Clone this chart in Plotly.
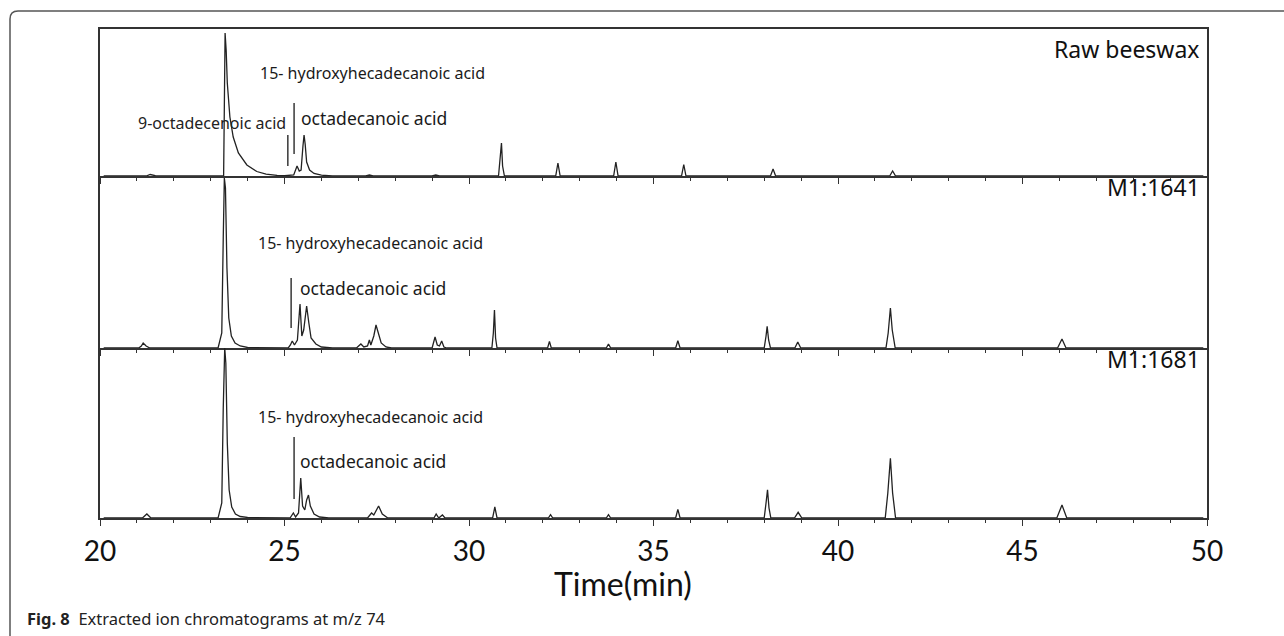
import plotly.graph_objects as go
from plotly.subplots import make_subplots

# ---------------- data ----------------
panel_names = ["Raw beeswax", "M1:1641", "M1:1681"]

raw_time = [20.1, 21.25, 21.36, 21.5, 22.0, 23.0, 23.35, 23.37, 23.39, 23.42, 23.45, 23.52,
            23.61, 23.75, 23.98, 24.25, 24.5, 24.8, 25.0, 25.25, 25.34, 25.40, 25.45, 25.50,
            25.53, 25.56, 25.60, 25.68, 25.8, 26.0, 26.3, 27.2, 27.3, 27.4, 29.0, 29.1, 29.2,
            30.8, 30.85, 30.88, 30.91, 30.96, 32.35, 32.41, 32.47, 33.92, 33.98, 34.04,
            35.76, 35.82, 35.88, 38.17, 38.24, 38.31, 41.40, 41.48, 41.56, 49.9]
raw_int = [0, 0, 1.5, 0.3, 0, 0, 0.3, 70, 143, 125, 93, 59,
           39, 23, 11, 4.5, 1.8, 0.6, 0.3, 1, 10, 5, 6, 30,
           41, 32, 14, 6, 2.5, 0.8, 0, 0, 1, 0, 0, 1, 0,
           0, 18, 33, 10, 0, 0, 13, 0, 0, 14, 0,
           0, 11.5, 0, 0, 7, 0, 0, 5, 0, 0]

m1641_time = [20.1, 21.05, 21.12, 21.17, 21.25, 21.35, 23.2, 23.30, 23.34, 23.37, 23.40, 23.44,
              23.49, 23.56, 23.66, 23.8, 24.0, 25.1, 25.16, 25.21, 25.27, 25.35, 25.42, 25.47,
              25.52, 25.60, 25.66, 25.72, 25.85, 26.0, 26.3, 26.95, 27.07, 27.15, 27.25, 27.30,
              27.34, 27.42, 27.48, 27.54, 27.62, 27.75, 27.9, 29.0, 29.08, 29.14, 29.2, 29.26,
              29.32, 29.4, 30.62, 30.66, 30.69, 30.72, 30.76, 32.13, 32.18, 32.23, 33.72, 33.78,
              33.84, 35.6, 35.66, 35.72, 38.0, 38.05, 38.08, 38.12, 38.17, 38.83, 38.91, 38.99,
              41.30, 41.36, 41.42, 41.47, 41.55, 45.95, 46.07, 46.18, 49.9]
m1641_int = [0, 0, 2, 5, 2, 0, 0, 15, 110, 170, 160, 80,
             30, 12, 5, 2, 0.5, 0, 3, 7, 3, 8, 44, 12,
             18, 42, 25, 10, 4, 1, 0, 0, 4, 1, 2, 8,
             3, 12, 23, 15, 5, 1, 0, 0, 11, 3, 2, 7,
             1, 0, 0, 15, 38, 10, 0, 0, 6.7, 0, 0, 4,
             0, 0, 7.3, 0, 0, 12, 21.7, 8, 0, 0, 6, 0,
             0, 15, 40, 18, 0, 0, 9, 0, 0]

m1681_time = [20.1, 21.15, 21.27, 21.38, 23.2, 23.30, 23.34, 23.38, 23.41, 23.45, 23.50, 23.57,
              23.67, 23.8, 24.0, 25.15, 25.24, 25.30, 25.38, 25.44, 25.49, 25.55, 25.60, 25.65,
              25.70, 25.80, 25.95, 26.2, 27.25, 27.36, 27.42, 27.55, 27.65, 27.8, 29.05, 29.11,
              29.18, 29.28, 29.35, 30.64, 30.70, 30.76, 32.15, 32.21, 32.27, 33.72, 33.78, 33.84,
              35.6, 35.66, 35.72, 38.0, 38.05, 38.09, 38.13, 38.18, 38.82, 38.92, 39.02,
              41.28, 41.35, 41.42, 41.48, 41.56, 45.93, 46.07, 46.2, 49.9]
m1681_int = [0, 0, 4, 0, 0, 15, 110, 170, 155, 75, 28, 11,
             4, 1.5, 0.5, 0, 5, 1, 5, 40, 12, 8, 18, 23,
             12, 4, 1, 0, 0, 5, 3, 12, 4, 0, 0, 4,
             0, 3, 0, 0, 11, 0, 0, 3.3, 0, 0, 3.3, 0,
             0, 8.7, 0, 0, 15, 28.3, 10, 0, 0, 5.7, 0,
             0, 25, 59.7, 25, 0, 0, 13, 0, 0]

panel_ymax = [147, 172, 170]
x_ticks = [20, 25, 30, 35, 40, 45, 50]

# labelled compounds: (panel, text, time of label start, intensity of label centre, size)
labels = [
    (1, "15- hydroxyhecadecanoic acid", 24.28, 103, 16),
    (1, "octadecanoic acid", 25.40, 58, 17.5),
    (2, "15- hydroxyhecadecanoic acid", 24.23, 105, 16),
    (2, "octadecanoic acid", 25.37, 60, 17.5),
    (3, "15- hydroxyhecadecanoic acid", 24.23, 101, 16),
    (3, "octadecanoic acid", 25.37, 57, 17.5),
]
left_labels = [(1, "9-octadecenoic acid", 25.09, 53, 16)]
# marker lines: (panel, time, low intensity, high intensity)
marker_lines = [(1, 25.09, 10, 41), (1, 25.26, 22, 73), (2, 25.18, 20, 70), (3, 25.26, 19, 81)]

series = [(raw_time, raw_int), (m1641_time, m1641_int), (m1681_time, m1681_int)]

# ---------------- figure ----------------
fig = make_subplots(rows=3, cols=1, shared_xaxes=True, vertical_spacing=0,
                    row_heights=panel_ymax)

line_col = "#222222"
for i, (tt, yy) in enumerate(series):
    fig.add_trace(go.Scatter(x=tt, y=yy, mode="lines",
                             line=dict(color=line_col, width=1.3),
                             showlegend=False, hoverinfo="skip"), row=i + 1, col=1)

for i in range(3):
    r = i + 1
    fig.update_xaxes(range=[20, 50], tickvals=x_ticks, ticks="outside", ticklen=6,
                     tickwidth=1.3, tickcolor="#333", showline=True, linecolor="#333",
                     linewidth=1.5, showgrid=False, zeroline=False,
                     minor=dict(dtick=1, ticks="outside", ticklen=3, tickcolor="#333", tickwidth=1),
                     showticklabels=(r == 3), mirror=(r == 1), row=r, col=1)
    fig.update_yaxes(range=[0, panel_ymax[i]], showline=True, linecolor="#333", linewidth=1.5,
                     mirror=True, ticks="", showticklabels=False, showgrid=False,
                     zeroline=False, row=r, col=1)

fig.update_xaxes(tickfont=dict(family="Lato", size=28, color="#111"),
                 ticklabelstandoff=2, row=3, col=1)

yrefs = ["y", "y2", "y3"]
for p, text, t, h, sz in labels:
    fig.add_annotation(x=t, y=h, xref="x", yref=yrefs[p - 1], text=text, showarrow=False,
                       xanchor="left", yanchor="middle",
                       font=dict(family="Noto Sans", size=sz, color="#1a1a1a"))
for p, text, t, h, sz in left_labels:
    fig.add_annotation(x=t, y=h, xref="x", yref=yrefs[p - 1], text=text, showarrow=False,
                       xanchor="right", yanchor="middle",
                       font=dict(family="Noto Sans", size=sz, color="#222"))
for p, t, lo, hi in marker_lines:
    fig.add_shape(type="line", x0=t, x1=t, y0=lo, y1=hi, xref="x", yref=yrefs[p - 1],
                  line=dict(color="#444", width=1.6))

# panel names (top-right of each panel)
name_pos = [0.865, 0.935, 0.935]
for i, nm in enumerate(panel_names):
    fig.add_annotation(x=0.9955, y=name_pos[i], xref="paper", yref=f"{yrefs[i]} domain",
                       text=nm, showarrow=False, xanchor="right", yanchor="middle",
                       font=dict(family="Noto Sans", size=23, color="#111"))

# axis title
fig.add_annotation(x=0.4724, y=-0.133, xref="paper", yref="paper", text="Time(min)",
                   showarrow=False, xanchor="center", yanchor="middle",
                   font=dict(family="Lato", size=32, color="#111"))

# caption
fig.add_annotation(x=-0.0678, y=-0.2065, xref="paper", yref="paper",
                   text="<b>Fig. 8</b>  Extracted ion chromatograms at m/z 74",
                   showarrow=False, xanchor="left", yanchor="middle",
                   font=dict(family="Noto Sans", size=16.5, color="#222"))

# outer rounded frame (top and left borders)
def px(x):
    return (x - 100) / 1107
def py(y):
    return (518 - y) / 489
path = (f"M {px(10)},{py(640)} L {px(10)},{py(19)} Q {px(10)},{py(11)} {px(18)},{py(11)} "
        f"L {px(1290)},{py(11)}")
fig.add_shape(type="path", path=path, xref="paper", yref="paper",
              line=dict(color="#555", width=1.5))

fig.update_layout(width=1284, height=636, margin=dict(l=100, r=77, t=29, b=118),
                  paper_bgcolor="white", plot_bgcolor="white")

fig.write_html("out.html")
